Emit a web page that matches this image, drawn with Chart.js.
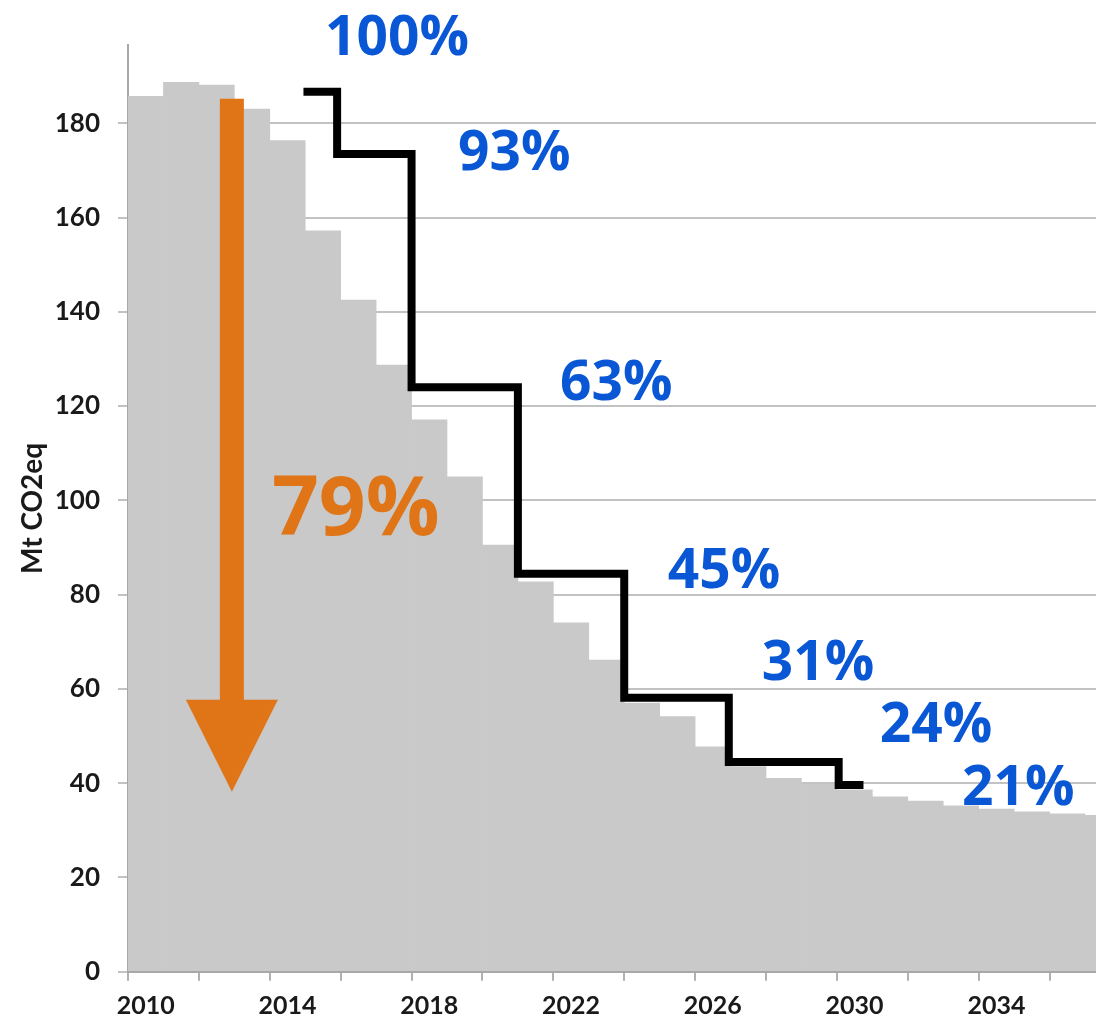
<!DOCTYPE html>
<html>
<head>
<meta charset="utf-8">
<script src="https://cdn.jsdelivr.net/npm/chart.js@4.4.1/dist/chart.umd.min.js"></script>
<style>
  html, body { margin: 0; padding: 0; background: #fff; overflow: hidden; }
  #wrap { width: 1096px; height: 1023px; position: relative; }
</style>
</head>
<body>
<div id="wrap"><canvas id="chart"></canvas></div>
<script>
// Emissions per year (Mt CO2eq), one bar per year
const years = [2010, 2011, 2012, 2013, 2014, 2015, 2016, 2017, 2018, 2019,
               2020, 2021, 2022, 2023, 2024, 2025, 2026, 2027, 2028, 2029,
               2030, 2031, 2032, 2033, 2034, 2035, 2036, 2037];
const emissions = [185.7, 188.7, 188.1, 183.0, 176.3, 157.2, 142.5, 128.7, 117.1, 105.0,
                   90.5, 82.7, 74.0, 66.1, 57.0, 54.1, 47.7, 43.5, 41.0, 39.8,
                   38.6, 37.1, 36.2, 35.2, 34.5, 33.9, 33.5, 33.2];

// Budget step line (start of each period, level for that period)
const budgetYears = [2014.95, 2015.9, 2018, 2021, 2024, 2026.95, 2030.05, 2030.75];
const budgetValues = [186.7, 173.5, 124.0, 84.4, 58.1, 44.5, 39.6, 39.6];

// Percentage labels, anchored in data coordinates (left / baseline)
const pctLabels = ['100%', '93%', '63%', '45%', '31%', '24%', '21%'];
const pctAnchorX = [2015.56, 2019.31, 2022.19, 2025.23, 2027.88, 2031.21, 2033.53];
const pctAnchorY = [194.5, 170.1, 121.3, 81.4, 61.9, 48.7, 35.4];

const totalLabel = '79%';
const totalAnchor = { x: 2014.06, y: 92.7 };
const arrowSpan = { x: 2012.93, from: 185.2, to: 38.2 };

const yTicksStep = 20;
const xTicksStep = 2;

const BLUE = '#0a57d5';
const ORANGE = '#e07518';
const GREY = '#c9c9c9';

const annotations = {
    id: 'annotations',
    afterDatasetsDraw(chart) {
        const { ctx, scales: { x, y } } = chart;
        ctx.save();

        // orange arrow
        const ax = x.getPixelForValue(arrowSpan.x);
        const top = y.getPixelForValue(arrowSpan.from);
        const tip = y.getPixelForValue(arrowSpan.to);
        const headBase = tip - 92;
        ctx.fillStyle = ORANGE;
        ctx.fillRect(ax - 12, top, 24, headBase - top + 1);
        ctx.beginPath();
        ctx.moveTo(ax - 46, headBase);
        ctx.lineTo(ax + 46, headBase);
        ctx.lineTo(ax, tip);
        ctx.closePath();
        ctx.fill();

        ctx.textAlign = 'left';
        ctx.textBaseline = 'alphabetic';
        ctx.font = 'bold 82px "Open Sans"';
        ctx.fillText(totalLabel, x.getPixelForValue(totalAnchor.x), y.getPixelForValue(totalAnchor.y));

        ctx.fillStyle = BLUE;
        ctx.font = 'bold 55px "Open Sans"';
        pctLabels.forEach((txt, i) => {
            ctx.fillText(txt, x.getPixelForValue(pctAnchorX[i]), y.getPixelForValue(pctAnchorY[i]));
        });
        ctx.restore();
    }
};

const ctx = document.getElementById('chart').getContext('2d');
new Chart(ctx, {
    type: 'bar',
    data: {
        datasets: [
            {
                type: 'line',
                data: budgetYears.map((yr, i) => ({ x: yr, y: budgetValues[i] })),
                borderColor: '#000',
                borderWidth: 8,
                borderCapStyle: 'butt',
                borderJoinStyle: 'miter',
                stepped: true,
                pointRadius: 0,
                fill: false,
                order: 0
            },
            {
                type: 'bar',
                data: years.map((yr, i) => ({ x: yr + 0.5, y: emissions[i] })),
                backgroundColor: GREY,
                borderWidth: 0,
                barPercentage: 1,
                categoryPercentage: 1,
                order: 1
            }
        ]
    },
    options: {
        responsive: true,
        maintainAspectRatio: false,
        animation: false,
        devicePixelRatio: 1,
        layout: { padding: { top: 45, right: 0, left: 0, bottom: 0 } },
        plugins: {
            legend: { display: false },
            tooltip: { enabled: false }
        },
        scales: {
            x: {
                type: 'linear',
                offset: false,
                min: 2010,
                max: 2037.31,
                afterFit(scale) { scale.height = 51.3; },
                grid: { offset: false, drawOnChartArea: false, drawTicks: true, tickLength: 9, color: '#b0b0b0', lineWidth: 2 },
                border: { color: '#a8a8a8', width: 2 },
                ticks: {
                    stepSize: xTicksStep,
                    includeBounds: false,
                    autoSkip: false,
                    maxRotation: 0,
                    labelOffset: 17.7,
                    padding: 10,
                    color: '#1a1a1a',
                    font: { family: 'Lato', weight: 'bold', size: 25 },
                    callback: (v) => ((v - 2010) % 4 === 0 ? String(v) : '')
                }
            },
            y: {
                min: 0,
                max: 196.6,
                afterFit(scale) { scale.width = 128; },
                grid: { color: '#c2c2c2', lineWidth: 2, tickLength: 10 },
                border: { color: '#a8a8a8', width: 2 },
                ticks: {
                    stepSize: yTicksStep,
                    includeBounds: false,
                    padding: 18,
                    color: '#1a1a1a',
                    font: { family: 'Lato', weight: 'bold', size: 26 }
                },
                title: {
                    display: true,
                    text: 'Mt CO2eq',
                    color: '#1a1a1a',
                    padding: { top: 16, bottom: 0 },
                    font: { family: 'Lato', weight: 'bold', size: 28 }
                }
            }
        }
    },
    plugins: [annotations]
});
</script>
</body>
</html>
